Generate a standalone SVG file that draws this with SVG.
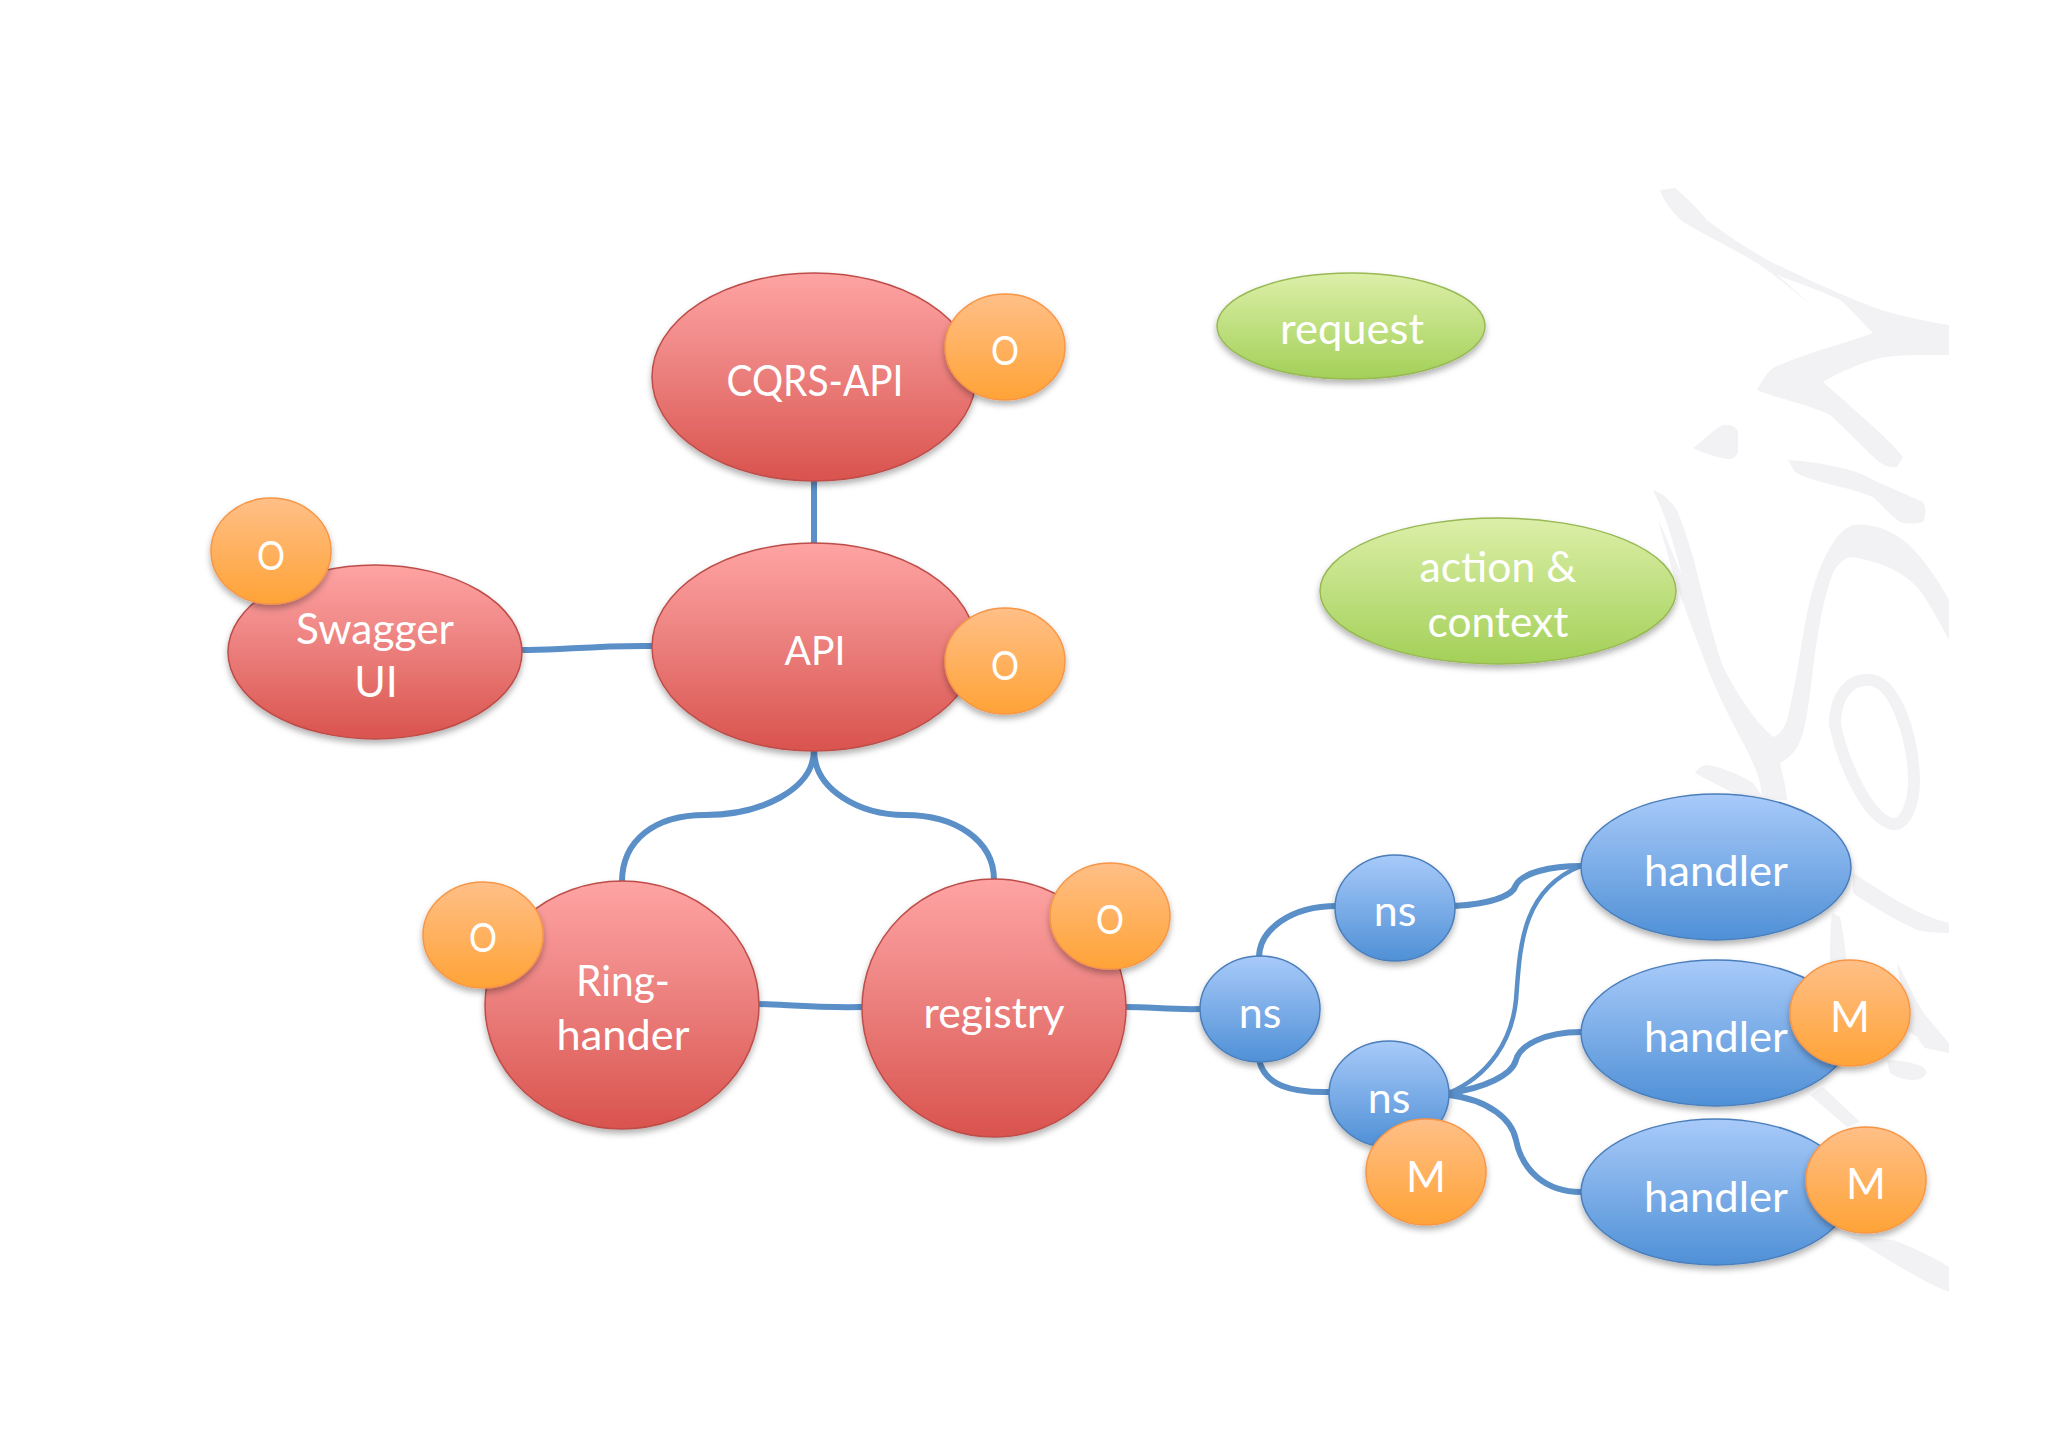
<svg xmlns="http://www.w3.org/2000/svg" width="2048" height="1447" viewBox="0 0 2048 1447">
<defs>
<linearGradient id="gr" x1="0" y1="0" x2="0" y2="1"><stop offset="0" stop-color="#ffa3a3"/><stop offset="0.35" stop-color="#f08a88"/><stop offset="1" stop-color="#d9534e"/></linearGradient>
<linearGradient id="go" x1="0" y1="0" x2="0" y2="1"><stop offset="0" stop-color="#ffbf87"/><stop offset="1" stop-color="#ffa337"/></linearGradient>
<linearGradient id="gb" x1="0" y1="0" x2="0" y2="1"><stop offset="0" stop-color="#a8caf9"/><stop offset="1" stop-color="#4f90d6"/></linearGradient>
<linearGradient id="gg" x1="0" y1="0" x2="0" y2="1"><stop offset="0" stop-color="#dcefa8"/><stop offset="1" stop-color="#a3d058"/></linearGradient>
<filter id="sh" x="-20%" y="-20%" width="140%" height="140%"><feDropShadow dx="0" dy="4" stdDeviation="3" flood-color="#000" flood-opacity="0.3"/></filter>
<clipPath id="wm"><rect x="1600" y="100" width="349" height="1250"/></clipPath>
</defs>
<style>
.r{fill:url(#gr);stroke:#bd4d4a;stroke-width:1.5;filter:url(#sh)}
.o{fill:url(#go);stroke:#f79646;stroke-width:1.5;filter:url(#sh)}
.b{fill:url(#gb);stroke:#4a7ebb;stroke-width:1.5;filter:url(#sh)}
.g{fill:url(#gg);stroke:#98b954;stroke-width:1.5;filter:url(#sh)}
text{font-family:"Lato","Open Sans","Liberation Sans",sans-serif;font-size:43px;fill:#fff;text-anchor:middle}
.k{font-size:40px}
.c{fill:none;stroke:#5a8fc8;stroke-width:6}
.wf{fill:#f2f2f4;stroke:none}
.ws{fill:none;stroke:#f2f2f4;stroke-linecap:round}
</style>
<rect width="2048" height="1447" fill="#fff"/>
<g id="watermark" clip-path="url(#wm)">
<path class="wf" d="M1660 190L1675 188C1690 200 1700 212 1707 220C1730 238 1750 250 1773 263C1810 280 1840 295 1873 307C1895 315 1925 321 1949 325V355C1925 355 1900 354 1880 358C1860 363 1840 372 1823 382L1847 403C1865 420 1890 440 1903 457L1897 467C1890 468 1882 465 1877 460C1860 445 1845 428 1830 415C1810 405 1775 398 1757 390C1762 380 1768 372 1773 368C1800 355 1840 345 1873 333C1860 320 1850 308 1840 300C1820 290 1795 282 1777 275C1790 285 1805 300 1817 310C1800 296 1775 275 1757 263C1730 247 1705 235 1683 222C1672 212 1663 200 1660 190Z"/>
<path class="wf" d="M1693 448C1703 441 1712 430 1723 425C1732 424 1737 428 1738 432V453C1735 458 1732 459 1728 459C1715 457 1703 453 1693 448Z"/>
<path class="wf" d="M1788 460C1820 462 1860 470 1873 480L1923 502Q1928 510 1923 522C1915 524 1905 524 1900 522C1890 515 1882 505 1873 497C1850 487 1810 482 1795 472Z"/>
<path class="wf" d="M1653 490C1663 493 1672 502 1677 510C1683 525 1688 540 1693 557C1703 595 1712 635 1723 667C1738 695 1755 722 1773 737C1780 735 1784 728 1787 720C1795 690 1800 650 1807 613C1812 590 1818 570 1827 553C1835 538 1843 528 1853 525C1875 522 1895 533 1907 543C1925 560 1938 580 1949 600V640C1938 620 1928 600 1917 587C1905 575 1890 566 1873 562C1863 559 1853 556 1847 558C1840 562 1836 567 1833 573C1826 590 1821 615 1817 640C1812 670 1810 705 1803 733C1798 750 1790 758 1780 763C1783 775 1786 788 1787 800H1763C1761 790 1760 780 1757 773C1752 760 1747 750 1740 737C1728 715 1716 690 1707 667C1695 635 1683 605 1673 573C1668 555 1663 538 1658 520C1668 540 1675 560 1682 575C1675 550 1668 520 1653 490Z"/>
<path class="wf" d="M1695 773C1698 768 1703 765 1707 765C1725 768 1742 776 1753 783L1765 800H1745C1730 790 1710 782 1695 773Z"/>
<path class="ws" stroke-width="12" d="M1835 725C1835 690 1855 678 1870 680C1895 682 1913 735 1914 780C1914 805 1905 825 1893 824C1870 820 1845 770 1835 725Z"/>
<path class="wf" d="M1853 873C1880 890 1915 915 1949 923V933C1935 933 1925 932 1917 930C1895 920 1870 905 1853 893Z"/>
<path class="wf" d="M1832 913L1840 917C1843 930 1845 945 1847 965H1830C1830 945 1830 930 1832 913Z"/>
<path class="wf" d="M1897 963C1905 975 1912 995 1925 1015L1949 1043V1053C1935 1048 1920 1040 1907 1030C1905 1005 1900 985 1897 963Z"/>
<path class="wf" d="M1887 1060C1900 1060 1915 1063 1923 1067L1927 1072C1925 1077 1920 1080 1913 1080C1905 1080 1895 1077 1890 1073Z"/>
<path class="wf" d="M1917 1038L1949 1045V1053L1925 1048Z"/>
<path class="wf" d="M1823 1087L1860 1122L1847 1127L1810 1095Z"/>
<path class="wf" d="M1850 1237L1893 1240C1915 1248 1935 1258 1949 1267V1292C1930 1285 1915 1275 1900 1267C1885 1258 1865 1245 1850 1237Z"/>
</g>
<g id="connectors">
<path class="c" d="M814 480V546"/>
<path class="c" d="M522 650C560 651 590 645 654 646"/>
<path class="c" d="M814 750C814 790 760 815 705 815C655 815 622 840 622 882"/>
<path class="c" d="M814 750C814 790 860 815 905 815C955 815 994 840 994 880"/>
<path class="c" d="M759 1004C790 1005 820 1008 862 1007"/>
<path class="c" d="M1126 1007C1150 1007 1175 1010 1200 1009"/>
<path class="c" d="M1259 958C1259 930 1290 906 1337 906"/>
<path class="c" d="M1259 1060C1265 1085 1290 1093 1330 1092"/>
<path class="c" d="M1454 906C1485 904 1512 898 1516 885C1522 873 1550 866 1581 866"/>
<path class="c" d="M1449 1093C1490 1075 1512 1040 1516 1000C1520 950 1520 890 1581 866" style="stroke-width:4.5"/>
<path class="c" d="M1449 1093C1485 1088 1512 1075 1516 1060C1520 1045 1545 1032 1581 1032"/>
<path class="c" d="M1449 1095C1490 1100 1512 1120 1516 1140C1522 1170 1545 1192 1581 1192"/>
</g>
<g id="cqrs"><ellipse class="r" cx="814" cy="377" rx="162" ry="104"/><text x="815" y="396" textLength="177" lengthAdjust="spacingAndGlyphs">CQRS-API</text></g>
<g id="cqrs-o"><ellipse class="o" cx="1005" cy="347" rx="60" ry="53"/><text class="k" x="1005" y="365" textLength="28" lengthAdjust="spacingAndGlyphs">O</text></g>
<g id="api"><ellipse class="r" cx="814" cy="647" rx="162" ry="104"/><text class="k" x="815" y="665" textLength="61" lengthAdjust="spacingAndGlyphs">API</text></g>
<g id="api-o"><ellipse class="o" cx="1005" cy="661" rx="60" ry="53"/><text class="k" x="1005" y="680" textLength="28" lengthAdjust="spacingAndGlyphs">O</text></g>
<g id="swagger"><ellipse class="r" cx="375" cy="652" rx="147" ry="87"/><text x="375" y="644" textLength="158" lengthAdjust="spacingAndGlyphs">Swagger</text><text x="376" y="697">UI</text></g>
<g id="swagger-o"><ellipse class="o" cx="271" cy="551" rx="60" ry="53"/><text class="k" x="271" y="570" textLength="28" lengthAdjust="spacingAndGlyphs">O</text></g>
<g id="ring"><ellipse class="r" cx="622" cy="1005" rx="137" ry="124"/><text x="623" y="996" textLength="94" lengthAdjust="spacingAndGlyphs">Ring-</text><text x="623" y="1050" textLength="133" lengthAdjust="spacingAndGlyphs">hander</text></g>
<g id="ring-o"><ellipse class="o" cx="483" cy="935" rx="60" ry="53"/><text class="k" x="483" y="952" textLength="28" lengthAdjust="spacingAndGlyphs">O</text></g>
<g id="registry"><ellipse class="r" cx="994" cy="1008" rx="132" ry="129"/><text x="994" y="1028" textLength="141" lengthAdjust="spacingAndGlyphs">registry</text></g>
<g id="registry-o"><ellipse class="o" cx="1110" cy="916" rx="60" ry="53"/><text class="k" x="1110" y="934" textLength="28" lengthAdjust="spacingAndGlyphs">O</text></g>
<g id="request"><ellipse class="g" cx="1351" cy="326" rx="134" ry="53"/><text x="1352" y="344" textLength="144" lengthAdjust="spacingAndGlyphs">request</text></g>
<g id="action"><ellipse class="g" cx="1498" cy="591" rx="178" ry="73"/><text x="1498" y="582" textLength="157" lengthAdjust="spacingAndGlyphs">action &amp;</text><text x="1498" y="637" textLength="141" lengthAdjust="spacingAndGlyphs">context</text></g>
<g id="ns0"><ellipse class="b" cx="1260" cy="1009" rx="60" ry="53"/><text x="1260" y="1028">ns</text></g>
<g id="ns1"><ellipse class="b" cx="1395" cy="908" rx="60" ry="53"/><text x="1395" y="926">ns</text></g>
<g id="ns2"><ellipse class="b" cx="1389" cy="1094" rx="60" ry="53"/><text x="1389" y="1113">ns</text></g>
<g id="ns2-m"><ellipse class="o" cx="1426" cy="1172" rx="60" ry="53"/><text x="1426" y="1192">M</text></g>
<g id="handler1"><ellipse class="b" cx="1716" cy="867" rx="135" ry="73"/><text x="1716" y="886" textLength="144" lengthAdjust="spacingAndGlyphs">handler</text></g>
<g id="handler2"><ellipse class="b" cx="1716" cy="1033" rx="135" ry="73"/><text x="1716" y="1052" textLength="144" lengthAdjust="spacingAndGlyphs">handler</text></g>
<g id="handler2-m"><ellipse class="o" cx="1850" cy="1013" rx="60" ry="53"/><text x="1850" y="1032">M</text></g>
<g id="handler3"><ellipse class="b" cx="1716" cy="1192" rx="135" ry="73"/><text x="1716" y="1212" textLength="144" lengthAdjust="spacingAndGlyphs">handler</text></g>
<g id="handler3-m"><ellipse class="o" cx="1866" cy="1180" rx="60" ry="53"/><text x="1866" y="1199">M</text></g>
</svg>
